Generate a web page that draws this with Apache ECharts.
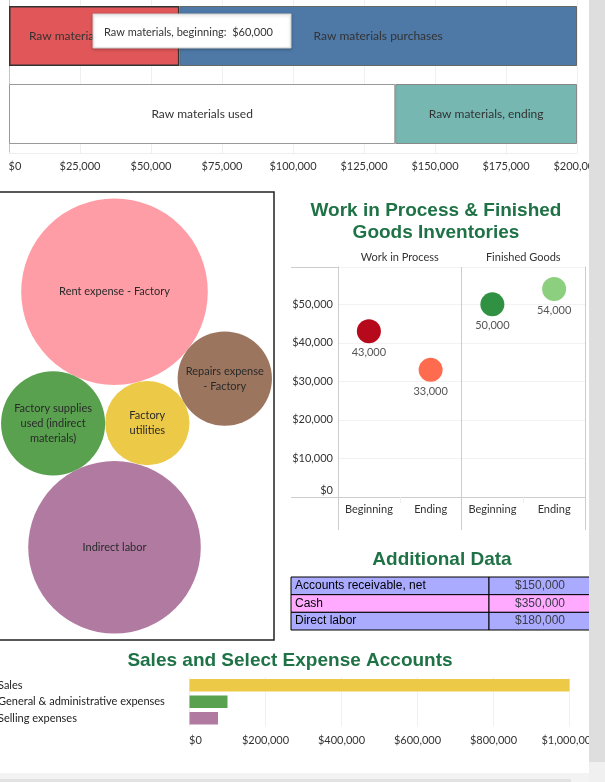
<!DOCTYPE html>
<html><head><meta charset="utf-8">
<script src="https://cdn.jsdelivr.net/npm/echarts@6/dist/echarts.min.js"></script>
<style>html,body{margin:0;padding:0;background:#fff;overflow:hidden}#c{width:605px;height:782px}</style>
</head><body><div id="c"></div>
<script>
// ---------- DATA ----------
// Raw materials (top stacked bars)
const rmRows = ['Beginning + purchases', 'Used + ending'];
const rmBeginning = 60000;
const rmPurchases = 140000;
const rmUsed = 136000;
const rmEnding = 64000;
const rmSeriesNames = ['Raw materials, beginning', 'Raw materials purchases', 'Raw materials used', 'Raw materials, ending'];

// Factory overhead (packed bubbles)
const ohNames = ['Rent expense - Factory', 'Factory supplies used (indirect materials)', 'Factory utilities', 'Indirect labor', 'Repairs expense - Factory'];
const ohLabels = ['Rent expense - Factory', 'Factory supplies\nused (indirect\nmaterials)', 'Factory\nutilities', 'Indirect labor', 'Repairs expense\n- Factory'];
const ohValues = [45000, 14000, 9200, 38500, 11500];

// Work in process & finished goods
const invGroups = ['Work in Process', 'Finished Goods'];
const invStages = ['Beginning', 'Ending', 'Beginning', 'Ending'];
const invValues = [43000, 33000, 50000, 54000];

// Additional data table
const addNames = ['Accounts receivable, net', 'Cash', 'Direct labor'];
const addValues = [150000, 350000, 180000];

// Sales and select expenses
const salesCats = ['Sales', 'General & administrative expenses', 'Selling expenses'];
const salesValues = [1000000, 100000, 75000];

// ---------- STYLE ----------
const FONT = 'Lato';
const TITLE_GREEN = '#1f7246';
const rmColors = ['#e15759', '#4e79a7', '#ffffff', '#76b7b2'];
const ohColors = ['#ff9da7', '#59a14f', '#edc948', '#b07aa1', '#9c755f'];
const invColors = ['#b60a1c', '#ff6b4f', '#309143', '#8bcf7f'];
const addColors = ['#aaaaff', '#ffaaff', '#aaaaff'];
const salesColors = ['#edc948', '#59a14f', '#b07aa1'];
const money = v => '$' + Number(v).toLocaleString('en-US');
// first label nudged inward like the original dashboard
const moneyX = v => v === 0 ? '{z|$0}' : money(v);
const moneyY = v => v === 0 ? '{y|$0}' : money(v);

// ---------- bubble packing (layout, tangent circles) ----------
const BW = 275, BH = 448;
function tangent(P, rP, Q, rQ, r, side) {
  const dx = Q.x - P.x, dy = Q.y - P.y, d = Math.hypot(dx, dy);
  const ux = dx / d, uy = dy / d, a1 = rP + r, b1 = rQ + r;
  const a = (d * d + a1 * a1 - b1 * b1) / (2 * d);
  const h = Math.sqrt(Math.max(0, a1 * a1 - a * a));
  return { x: P.x + ux * a + side * (-uy) * h, y: P.y + uy * a + side * ux * h };
}
const rr = ohValues.map(v => Math.sqrt(v));
const pos = [];
pos[0] = { x: 0, y: 0 };
const ang = 115 * Math.PI / 180;
pos[1] = { x: Math.cos(ang) * (rr[0] + rr[1]), y: Math.sin(ang) * (rr[0] + rr[1]) };
pos[2] = tangent(pos[0], rr[0], pos[1], rr[1], rr[2], -1);
pos[3] = tangent(pos[1], rr[1], pos[2], rr[2], rr[3], 1);
pos[4] = tangent(pos[0], rr[0], pos[2], rr[2], rr[4], -1);
let mnx = Infinity, mxx = -Infinity, mny = Infinity, mxy = -Infinity;
pos.forEach((p, i) => { mnx = Math.min(mnx, p.x - rr[i]); mxx = Math.max(mxx, p.x + rr[i]); mny = Math.min(mny, p.y - rr[i]); mxy = Math.max(mxy, p.y + rr[i]); });
const sc = Math.min(BW / (mxx - mnx), BH / (mxy - mny)) * 0.985;
const ccx = (mnx + mxx) / 2, ccy = (mny + mxy) / 2;
const bubbleData = ohValues.map((v, i) => ({
  name: ohNames[i],
  value: [(pos[i].x - ccx) * sc + BW / 2, (pos[i].y - ccy) * sc + BH / 2, v],
  itemStyle: { color: ohColors[i] }
}));

// ---------- CHART ----------
const chart = echarts.init(document.getElementById('c'), null, { renderer: 'canvas' });
const axisLbl = { fontFamily: FONT, fontSize: 11, color: '#333' };
const richX = { z: { fontFamily: FONT, fontSize: 11, color: '#333', padding: [0, 0, 0, 12] } };
const richY = { y: { fontFamily: FONT, fontSize: 11, color: '#333', padding: [0, 0, 14, 0] } };
const G = { outerBoundsMode: 'none', containLabel: false };
const INV_MAX = 59700;

const option = {
  animation: false,
  textStyle: { fontFamily: FONT },
  grid: [
    Object.assign({ left: 9, right: 28, top: -3, height: 156 }, G),
    Object.assign({ left: -1, top: 192, width: BW, height: BH, show: true, borderColor: '#222', borderWidth: 1.5, backgroundColor: 'transparent' }, G),
    Object.assign({ left: 338, right: 20, top: 267, bottom: 285 }, G),
    Object.assign({ left: 291, top: 577, width: 300, height: 53 }, G),
    Object.assign({ left: 189.5, right: 35.5, top: 677, height: 49.5 }, G)
  ],
  xAxis: [
    { gridIndex: 0, type: 'value', min: 0, max: 200000, interval: 25000,
      axisLabel: Object.assign({ formatter: moneyX, rich: richX, margin: 8 }, axisLbl),
      axisLine: { show: true, lineStyle: { color: '#eee' } }, axisTick: { show: false },
      splitLine: { lineStyle: { color: '#f0f0f0' } } },
    { gridIndex: 1, type: 'value', min: 0, max: BW, show: false },
    { gridIndex: 2, type: 'category', data: invStages, position: 'bottom',
      axisLabel: Object.assign({ margin: 7, interval: 0 }, axisLbl),
      axisLine: { lineStyle: { color: '#ccc' } },
      axisTick: { show: true, length: 6, lineStyle: { color: '#eee' } } },
    { gridIndex: 2, type: 'category', data: invGroups, position: 'top',
      axisLabel: Object.assign({ margin: 4, interval: 0 }, axisLbl),
      axisLine: { lineStyle: { color: '#ccc' } },
      axisTick: { show: true, length: 16, lineStyle: { color: '#ccc' } } },
    { gridIndex: 2, type: 'category', data: invGroups, position: 'bottom',
      axisLabel: { show: false }, axisLine: { show: false },
      splitLine: { show: true, lineStyle: { color: '#ccc' } },
      axisTick: { show: true, length: 33, lineStyle: { color: '#ccc' } } },
    { gridIndex: 3, type: 'value', min: 0, max: 300, show: false },
    { gridIndex: 4, type: 'value', min: 0, max: 1000000, interval: 200000,
      axisLabel: Object.assign({ formatter: moneyX, rich: richX, margin: 8 }, axisLbl),
      axisLine: { show: false }, axisTick: { show: false },
      splitLine: { lineStyle: { color: '#f0f0f0' } } }
  ],
  yAxis: [
    { gridIndex: 0, type: 'category', data: rmRows, inverse: true,
      axisLabel: { show: false }, axisTick: { show: false },
      axisLine: { show: true, lineStyle: { color: '#bbb', type: 'dotted' } } },
    { gridIndex: 1, type: 'value', min: 0, max: BH, inverse: true, show: false },
    { gridIndex: 2, type: 'value', min: 0, max: INV_MAX, interval: 10000,
      axisLabel: Object.assign({ formatter: moneyY, rich: richY, margin: 5, showMaxLabel: false }, axisLbl),
      axisLine: { show: true, lineStyle: { color: '#ccc' } }, axisTick: { show: false },
      splitLine: { lineStyle: { color: '#f2f2f2' } } },
    { gridIndex: 2, type: 'value', min: 0, max: INV_MAX, interval: 10000, position: 'right',
      axisLabel: { show: false }, axisTick: { show: false }, splitLine: { show: false },
      axisLine: { show: true, lineStyle: { color: '#ccc' } } },
    { gridIndex: 3, type: 'category', data: addNames, inverse: true, show: false },
    { gridIndex: 4, type: 'category', data: salesCats, inverse: true,
      axisLabel: { fontFamily: FONT, fontSize: 11, color: '#222', align: 'left', margin: 191.5 },
      axisLine: { show: false }, axisTick: { show: false } }
  ],
  series: [
    { type: 'bar', name: rmSeriesNames[0], xAxisIndex: 0, yAxisIndex: 0, stack: 'rm', barWidth: 60,
      data: [rmBeginning, null],
      itemStyle: { color: rmColors[0], borderColor: '#333', borderWidth: 1.5 },
      label: { show: true, position: 'inside', formatter: rmSeriesNames[0], fontFamily: FONT, fontSize: 12, color: '#333' } },
    { type: 'bar', name: rmSeriesNames[1], xAxisIndex: 0, yAxisIndex: 0, stack: 'rm', barWidth: 60,
      data: [rmPurchases, null],
      itemStyle: { color: rmColors[1], borderColor: '#666', borderWidth: 1 },
      label: { show: true, position: 'inside', formatter: rmSeriesNames[1], fontFamily: FONT, fontSize: 12, color: '#333' } },
    { type: 'bar', name: rmSeriesNames[2], xAxisIndex: 0, yAxisIndex: 0, stack: 'rm', barWidth: 60,
      data: [null, rmUsed],
      itemStyle: { color: rmColors[2], borderColor: '#999', borderWidth: 1 },
      label: { show: true, position: 'inside', formatter: rmSeriesNames[2], fontFamily: FONT, fontSize: 12, color: '#333' } },
    { type: 'bar', name: rmSeriesNames[3], xAxisIndex: 0, yAxisIndex: 0, stack: 'rm', barWidth: 60,
      data: [null, rmEnding],
      itemStyle: { color: rmColors[3], borderColor: '#888', borderWidth: 1 },
      label: { show: true, position: 'inside', formatter: rmSeriesNames[3], fontFamily: FONT, fontSize: 12, color: '#333' } },
    { type: 'scatter', xAxisIndex: 1, yAxisIndex: 1, data: bubbleData,
      symbolSize: v => 2 * sc * Math.sqrt(v[2]),
      itemStyle: { opacity: 1 },
      label: { show: true, position: 'inside', formatter: p => ohLabels[p.dataIndex],
        fontFamily: FONT, fontSize: 11, lineHeight: 15, color: '#2a2a2a', align: 'center' },
      emphasis: { disabled: true } },
    { type: 'scatter', xAxisIndex: 2, yAxisIndex: 2, symbolSize: 24,
      data: invValues.map((v, i) => ({ value: [i, v], itemStyle: { color: invColors[i] } })),
      itemStyle: { opacity: 1 },
      label: { show: true, position: 'bottom', distance: 4, formatter: p => p.value[1].toLocaleString('en-US'),
        fontFamily: FONT, fontSize: 11, color: '#555' } },
    { type: 'custom', xAxisIndex: 5, yAxisIndex: 4,
      data: addNames.map((n, i) => [0, i]),
      renderItem: function (params, api) {
        const i = params.dataIndex;
        const p0 = api.coord([0, i]);
        const h = api.size([0, 1])[1];
        const top = p0[1] - h / 2;
        const x0 = p0[0], x1 = api.coord([198, i])[0], x2 = api.coord([300, i])[0];
        return { type: 'group', children: [
          { type: 'rect', shape: { x: x0, y: top, width: x1 - x0, height: h }, style: { fill: addColors[i], stroke: '#000', lineWidth: 1 } },
          { type: 'rect', shape: { x: x1, y: top, width: x2 - x1, height: h }, style: { fill: addColors[i], stroke: '#000', lineWidth: 1 } },
          { type: 'text', x: x0 + 4, y: top + h / 2, style: { text: addNames[i], fill: '#000', font: '12px "Liberation Sans"', verticalAlign: 'middle' } },
          { type: 'text', x: (x1 + x2) / 2, y: top + h / 2, style: { text: money(addValues[i]), fill: '#3a3a48', font: '12px "Liberation Sans"', textAlign: 'center', verticalAlign: 'middle' } }
        ] };
      } },
    { type: 'bar', xAxisIndex: 6, yAxisIndex: 5, barWidth: 12.5,
      data: salesValues.map((v, i) => ({ value: v, itemStyle: { color: salesColors[i] } })) }
  ],
  graphic: [
    // titles
    { type: 'text', x: 436, y: 200, style: { text: 'Work in Process & Finished\nGoods Inventories', textAlign: 'center', font: 'bold 19px "Liberation Sans"', lineHeight: 22, fill: TITLE_GREEN } },
    { type: 'text', x: 442, y: 550, style: { text: 'Additional Data', textAlign: 'center', font: 'bold 19px "Liberation Sans"', fill: TITLE_GREEN } },
    { type: 'text', x: 290, y: 651, style: { text: 'Sales and Select Expense Accounts', textAlign: 'center', font: 'bold 19px "Liberation Sans"', fill: TITLE_GREEN } },
    // frame extensions in WIP panel
    { type: 'line', shape: { x1: 291, y1: 267.5, x2: 338, y2: 267.5 }, style: { stroke: '#ccc', lineWidth: 1 } },
    { type: 'line', shape: { x1: 291, y1: 497.5, x2: 338, y2: 497.5 }, style: { stroke: '#ccc', lineWidth: 1 } },
    // tooltip overlay
    { type: 'rect', z: 90, shape: { x: 93, y: 14, width: 198, height: 34 }, style: { fill: '#fff', stroke: '#d0d0d0', lineWidth: 1, shadowBlur: 3, shadowColor: 'rgba(0,0,0,0.25)', shadowOffsetY: 1 } },
    { type: 'text', z: 91, x: 104, y: 32, style: { text: rmSeriesNames[0] + ':  ' + money(rmBeginning), font: '11px ' + FONT, fill: '#333', verticalAlign: 'middle' } },
    // window chrome (scroll bars)
    { type: 'rect', z: 100, shape: { x: 589, y: 0, width: 16, height: 762 }, style: { fill: '#dedede' } },
    { type: 'rect', z: 100, shape: { x: 589, y: 762, width: 16, height: 20 }, style: { fill: '#f0f0f0' } },
    { type: 'rect', z: 100, shape: { x: 0, y: 773, width: 589, height: 9 }, style: { fill: '#f3f3f3' } },
    { type: 'rect', z: 100, shape: { x: 0, y: 779, width: 571, height: 3 }, style: { fill: '#e2e2e2' } }
  ]
};
chart.setOption(option);
</script>
</body></html>
